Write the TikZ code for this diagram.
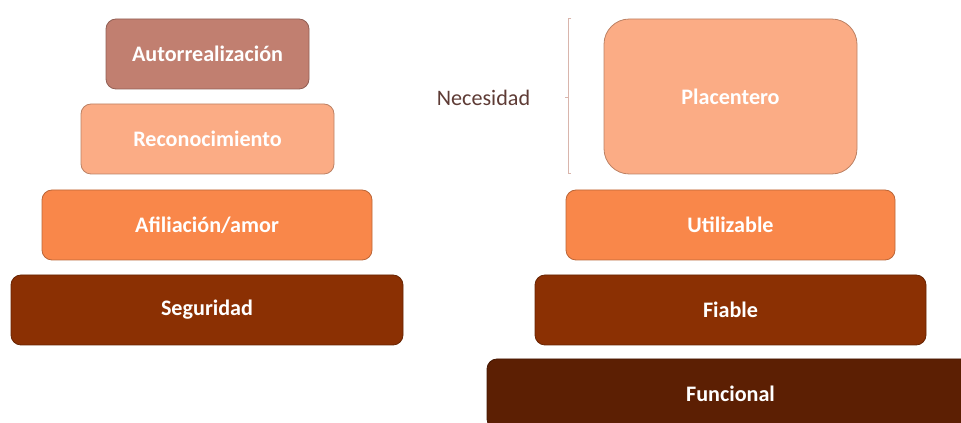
\documentclass[tikz,border=0pt]{standalone}
\usepackage{fontspec}
\setmainfont{Carlito}
\usetikzlibrary{positioning}

\definecolor{rosado}{HTML}{C17F70}
\definecolor{salmon}{HTML}{FBAC85}
\definecolor{naranja}{HTML}{F9874A}
\definecolor{oxido}{HTML}{8B3003}
\definecolor{marron}{HTML}{5C1F03}
\definecolor{textonec}{HTML}{5E3B35}
\definecolor{corchete}{HTML}{D9B5AC}

\tikzset{
  caja/.style={draw=#1!75!black, fill=#1, line width=0.6pt, rounded corners=7.5pt,
    minimum height=52.5pt, inner sep=0pt, text=white,
    font=\fontsize{16.6}{18}\selectfont\bfseries},
}

\begin{document}
\begin{tikzpicture}[x=0.75pt, y=-0.75pt]
            % Marco
            \useasboundingbox (0,0) rectangle (961,423);
            \clip (0,0) rectangle (961,423);

            % Piramide izquierda
            \node[caja=rosado, minimum width=152.25pt] (autorreal) at (207.5,54) {Autorrealización};
            \node[caja=salmon, minimum width=189.75pt] (reconoc) at (207.5,139) {Reconocimiento};
            \node[caja=naranja, minimum width=247.5pt] (afiliacion) at (207,225) {Afiliación/amor};
            \node[caja=oxido, minimum width=294pt] (seguridad) at (207,310) {Seguridad};

            % Piramide derecha
            \node[caja=salmon, minimum width=189.75pt, minimum height=116.25pt, rounded corners=19pt] (placentero) at (730.5,96.5) {Placentero};
            \node[caja=naranja, minimum width=246.75pt] (utilizable) at (730.5,225) {Utilizable};
            \node[caja=oxido, minimum width=293.25pt] (fiable) at (730.5,310) {Fiable};
            \node[caja=marron, minimum width=365.25pt] (funcional) at (730.5,394) {Funcional};

            % Corchete
            \coordinate (corch-arr) at (568,18);
            \coordinate (corch-ab) at (568,173);
            \coordinate (corch-med) at (568,97);
            \draw[corchete, line width=0.6pt] ([xshift=2.5pt]corch-arr) -- (corch-arr) -- (corch-ab) -- ([xshift=2.5pt]corch-ab);
            \draw[corchete, line width=0.6pt] (corch-med) -- ([xshift=-2.5pt]corch-med);

            % Etiqueta
            \node[text=textonec, font=\fontsize{16.6}{18}\selectfont] (necesidad) at (483.5,98) {Necesidad};
\end{tikzpicture}
\end{document}
